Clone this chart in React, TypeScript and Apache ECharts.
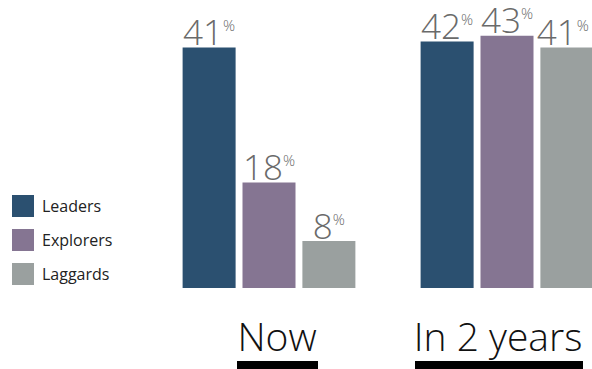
import React, { useEffect, useRef } from "react";
import * as echarts from "echarts";

const categories = ["Now", "In 2 years"];
const seriesNames = ["Leaders", "Explorers", "Laggards"];
const leaders = [41, 42];
const explorers = [18, 43];
const laggards = [8, 41];
const colors = ["#2b5070", "#857592", "#9aa09f"];

export default function App() {
  const ref = useRef<HTMLDivElement>(null);
  useEffect(() => {
    if (!ref.current) return;
    const chart = echarts.init(ref.current, null, { renderer: "svg" });
    const dataSets = [leaders, explorers, laggards];
    const font = "'Open Sans', 'Noto Sans', sans-serif";
    chart.setOption({
      animation: false,
      grid: { left: 269, right: 85, top: 24, bottom: 81, containLabel: false },
      legend: {
        orient: "vertical",
        left: 12,
        top: 195,
        padding: 0,
        itemWidth: 22,
        itemHeight: 22,
        itemGap: 12,
        icon: "rect",
        textStyle: { fontSize: 16, color: "#222", fontFamily: font, padding: [0, 0, 0, 3] },
        data: seriesNames,
      },
      xAxis: {
        type: "category",
        boundaryGap: false,
        data: categories,
        axisLine: { show: false },
        axisTick: { show: false },
        axisLabel: {
          margin: 28,
          formatter: (v: string) => (v === "Now" ? `{a|${v}}` : `{b|${v}}`),
          rich: {
            a: { fontSize: 39, fontWeight: 300, fontFamily: font, color: "#111", padding: [0, 0, 0, 16] },
            b: { fontSize: 39, fontWeight: 300, fontFamily: font, color: "#111", padding: [0, 18, 0, 0] },
          },
        },
      },
      yAxis: { type: "value", min: 0, max: 45, show: false, splitLine: { show: false } },
      series: seriesNames.map((name, i) => ({
        name,
        type: "bar",
        barWidth: 53,
        barGap: "13%",
        itemStyle: { color: colors[i] },
        data: dataSets[i].map((v, j) =>
          i === 2 && j === 1 ? { value: v, label: { offset: [-4, 0] } } : v
        ),
        label: {
          show: true,
          position: "top",
          distance: -1,
          formatter: (p: any) => `{n|${p.value}}{p|%}`,
          rich: {
            n: { fontSize: 35, fontWeight: 350, fontFamily: font, color: "#6a6a6a", lineHeight: 34 },
            p: { fontSize: 15, fontWeight: 350, fontFamily: font, color: "#6a6a6a", verticalAlign: "top", lineHeight: 16, padding: [3, 0, 0, 0] },
          },
        },
      })),
      graphic: [
        { type: "rect", shape: { x: 237, y: 361, width: 81, height: 8 }, style: { fill: "#000" } },
        { type: "rect", shape: { x: 415, y: 361, width: 168, height: 8 }, style: { fill: "#000" } },
      ],
    });
    return () => chart.dispose();
  }, []);
  return <div ref={ref} style={{ width: 592, height: 369, position: "absolute", left: 0, top: 0 }} />;
}
